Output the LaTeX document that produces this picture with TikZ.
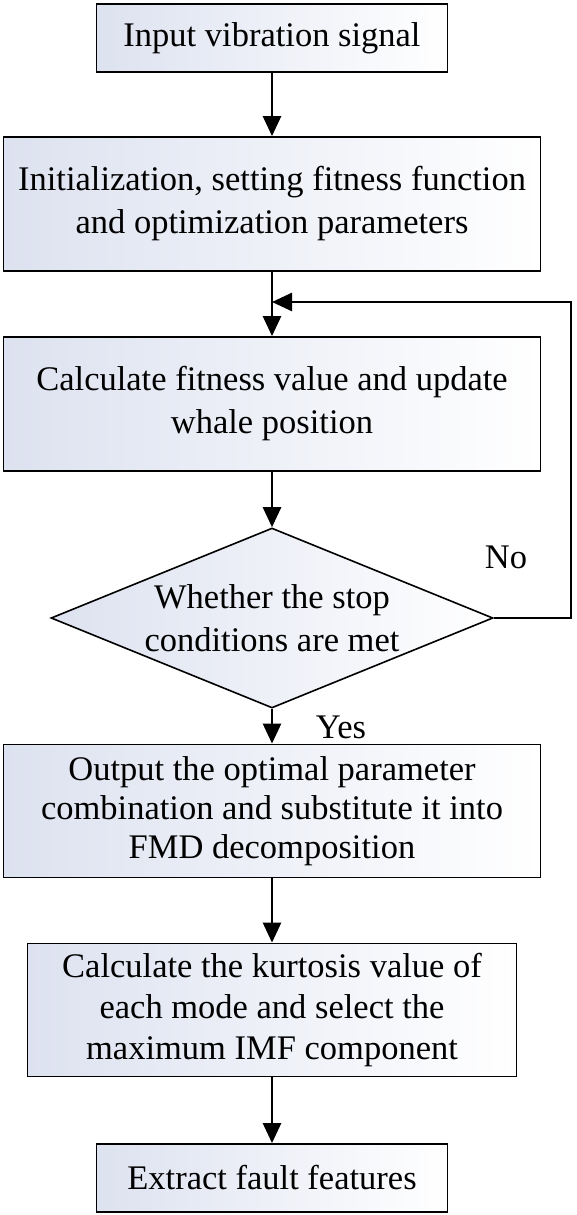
\documentclass[tikz,border=0pt]{standalone}
\usepackage{fontspec}
\setmainfont{Liberation Serif}
\usepackage{xcolor}
\definecolor{boxShade}{HTML}{DDE2F0}
\usetikzlibrary{shapes.geometric,arrows.meta}

\begin{document}
\begin{tikzpicture}[x=1pt, y=-1pt,
  stepbox/.style={draw, line width=1.8pt, left color=boxShade, right color=white, align=center, inner sep=0pt},
  decision/.style={diamond, draw, line width=1.6pt, left color=boxShade, right color=white, inner sep=0pt},
  flow/.style={line width=2.6pt, -{Triangle[length=20pt,width=18pt]}},
  font=\fontsize{34.5}{43}\selectfont]
  \useasboundingbox (0,0) rectangle (576,1215);
  \node[stepbox, minimum width=351pt, minimum height=68pt] (in) at (272,38) {Input vibration signal};
  \node[stepbox, minimum width=537pt, minimum height=134pt] (init) at (272,204) {Initialization, setting fitness function\\and optimization parameters};
  \node[stepbox, minimum width=537pt, minimum height=134pt] (calc) at (272,404) {Calculate fitness value and update\\whale position};
  \node[decision, minimum width=442pt, minimum height=180pt,
    label={[align=center]center:Whether the stop\\conditions are met}] (check) at (272,618) {};
  \node[stepbox, minimum width=537pt, minimum height=133pt] (out) at (272,811) {Output the optimal parameter\\[-4pt]combination and substitute it into\\[-4pt]FMD decomposition};
  \node[stepbox, minimum width=489pt, minimum height=133pt] (kurt) at (272,1010) {Calculate the kurtosis value of\\[-2pt]each mode and select the\\[-2pt]maximum IMF component};
  \node[stepbox, minimum width=351pt, minimum height=68pt] (feat) at (272,1178) {Extract fault features};
  \coordinate (back) at (571,302);
  \node (no) at (506,557) {No};
  \node (yes) at (341,727) {Yes};
  \draw[flow] (in) -- (init);
  \draw[flow] (init) -- (calc);
  \draw[flow] (calc) -- (check);
  \draw[flow] (check) -- (out);
  \draw[flow] (out) -- (kurt);
  \draw[flow] (kurt) -- (feat);
  \draw[flow] (check.east) -| (back) -- (back -| init.south);
\end{tikzpicture}
\end{document}
